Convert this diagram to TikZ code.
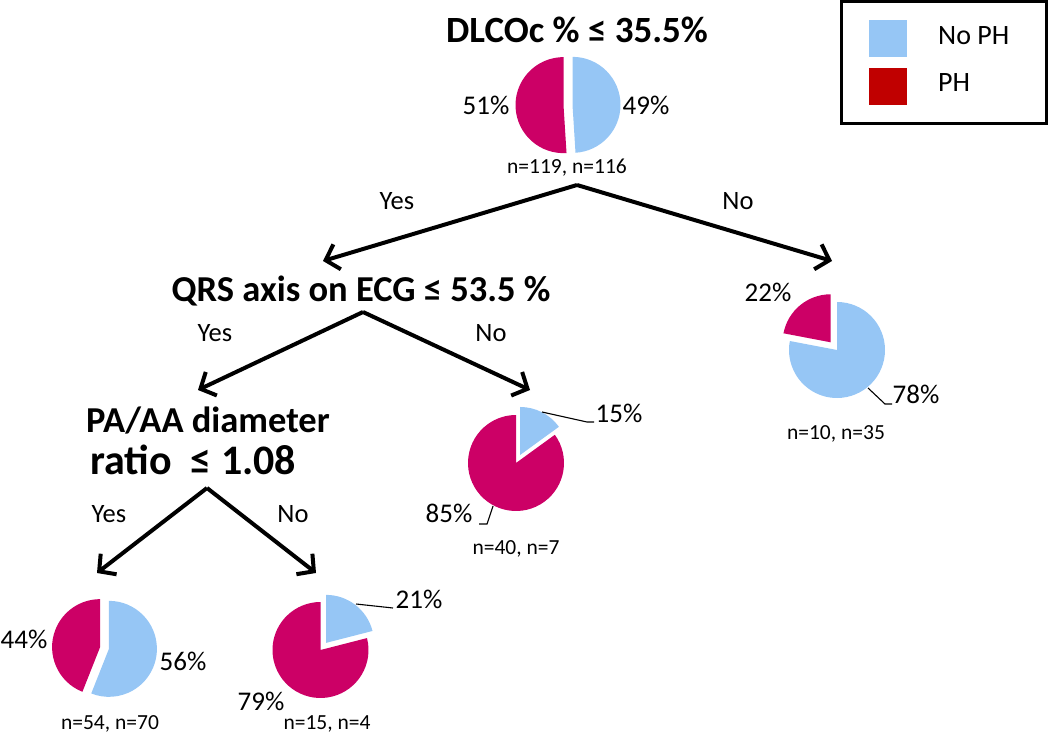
\documentclass[tikz,border=0pt]{standalone}
\usepackage{fontspec}
\setmainfont{Carlito}
\usetikzlibrary{arrows.meta,calc}
\definecolor{phblue}{RGB}{150,198,245}
\definecolor{phmag}{RGB}{204,0,102}
\definecolor{phred}{RGB}{192,0,0}
% #1,#2 centre, #3 start fraction, #4 end fraction (clockwise from 12 o'clock), #5 explode, #6 colour
\newcommand\pieslice[6]{%
  \pgfmathsetmacro\pta{-90+360*#3}%
  \pgfmathsetmacro\ptb{-90+360*#4}%
  \pgfmathsetmacro\ptm{(\pta+\ptb)/2}%
  \fill[#6] (#1,#2) ++(\ptm:#5) -- ++(\pta:48) arc[start angle=\pta, end angle=\ptb, radius=48] -- cycle;}
\tikzset{
  title/.style={font=\bfseries\fontsize{36.5}{42}\selectfont, inner sep=0pt, anchor=base},
  bigtitle/.style={font=\bfseries\fontsize{37}{44}\selectfont, inner sep=0pt, anchor=base},
  pct/.style={font=\fontsize{27}{32}\selectfont, inner sep=0pt, anchor=base},
  cnt/.style={font=\fontsize{21.5}{25}\selectfont, inner sep=0pt, anchor=base},
  yn/.style={font=\fontsize{26.5}{30}\selectfont, inner sep=0pt, anchor=base},
  legtext/.style={font=\fontsize{28}{32}\selectfont, inner sep=0pt, anchor=base west},
  branch/.style={line width=4pt, -{Straight Barb[length=12pt,width=26pt]}},
  leader/.style={line width=1.1pt},
}
\begin{document}
\begin{tikzpicture}[x=1pt,y=-1pt]
\useasboundingbox (0,0) rectangle (1050,735);

% ---------- legend ----------
\draw[line width=3pt] (841,1.5) rectangle (1046.5,123.5);
\fill[phblue] (869,20) rectangle (907,57);
\fill[phred] (869,68) rectangle (907,105);
\node[legtext] (lgA) at (938,45) {No PH};
\node[legtext] (lgB) at (938,92) {PH};

% ---------- titles ----------
\node[bigtitle] (q1) at (577,43) {DLCOc \% ≤ 35.5\%};
\node[title] (q2) at (361,302) {QRS axis on ECG ≤ 53.5 \%};
\node[title] (q3) at (208,432) {PA/AA diameter};
\node[title, font=\bfseries\fontsize{42}{48}\selectfont, anchor=base west] (q3b) at (90,474) {ratio \ ≤ 1.08};

% ---------- pie 1 ----------
\pieslice{568}{105}{0}{0.49}{4.5}{phblue}
\pieslice{568}{105}{0.49}{1}{4.5}{phmag}
\node[pct] (p1a) at (486,115) {51\%};
\node[pct] (p1b) at (646,115) {49\%};
\node[cnt] (n1) at (567,174) {n=119, n=116};

% ---------- pie right (78/22) ----------
\pieslice{837}{350}{0}{0.78}{0}{phblue}
\pieslice{837}{350}{0.78}{1}{10}{phmag}
\node[pct] (p2a) at (768,302) {22\%};
\node[pct] (p2b) at (916,403) {78\%};
\coordinate (l2a) at (868,388);
\coordinate (l2b) at (885,404);
\coordinate (l2c) at (892,404);
\draw[leader] (l2a) -- (l2b) -- (l2c);
\node[cnt] (n2) at (836,439) {n=10, n=35};

% ---------- pie middle (85/15) ----------
\pieslice{516}{463}{0}{0.15}{9}{phblue}
\pieslice{516}{463}{0.15}{1}{0}{phmag}
\node[pct] (p3a) at (619,422) {15\%};
\node[pct] (p3b) at (449,522) {85\%};
\coordinate (l3a) at (542,412);
\coordinate (l3b) at (587,422);
\coordinate (l3c) at (594,422);
\draw[leader] (l3a) -- (l3b) -- (l3c);
\coordinate (l3d) at (493,506);
\coordinate (l3e) at (487,524);
\coordinate (l3f) at (479,524);
\draw[leader] (l3d) -- (l3e) -- (l3f);
\node[cnt] (n3) at (516,554) {n=40, n=7};

% ---------- pie bottom left (56/44) ----------
\pieslice{104.5}{648}{0}{0.56}{4.5}{phblue}
\pieslice{104.5}{648}{0.56}{1}{4.5}{phmag}
\node[pct] (p4a) at (24,648) {44\%};
\node[pct] (p4b) at (183,670) {56\%};
\node[cnt] (n4) at (110,729) {n=54, n=70};

% ---------- pie bottom right (79/21) ----------
\pieslice{320.5}{650}{0}{0.21}{9}{phblue}
\pieslice{320.5}{650}{0.21}{1}{0}{phmag}
\node[pct] (p5a) at (419,608) {21\%};
\node[pct] (p5b) at (261,710) {79\%};
\coordinate (l5a) at (356,604);
\coordinate (l5b) at (393,608);
\draw[leader] (l5a) -- (l5b);
\node[cnt] (n5) at (327,729) {n=15, n=4};

% ---------- branches ----------
\coordinate (ap1) at (577,185);
\coordinate (t1l) at (323,261);
\coordinate (t1r) at (832,261);
\draw[branch] (ap1) -- (t1l);
\draw[branch] (ap1) -- (t1r);
\node[yn] (y1) at (397,210) {Yes};
\node[yn] (no1) at (738,210) {No};

\coordinate (ap2) at (363,312);
\coordinate (t2l) at (198,390);
\coordinate (t2r) at (530,390);
\draw[branch] (ap2) -- (t2l);
\draw[branch] (ap2) -- (t2r);
\node[yn] (y2) at (215,342) {Yes};
\node[yn] (no2) at (491,342) {No};

\coordinate (ap3) at (207,488);
\coordinate (t3l) at (97,573);
\coordinate (t3r) at (316,573);
\draw[branch] (ap3) -- (t3l);
\draw[branch] (ap3) -- (t3r);
\node[yn] (y3) at (109,522) {Yes};
\node[yn] (no3) at (293,522) {No};
\end{tikzpicture}
\end{document}
